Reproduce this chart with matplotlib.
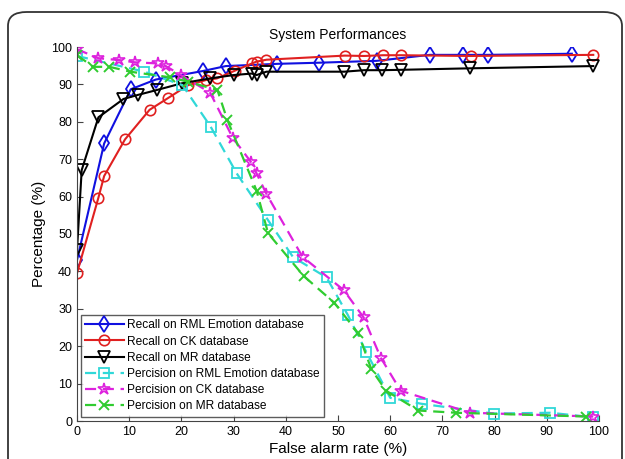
import matplotlib.pyplot as plt
from matplotlib.patches import FancyBboxPatch

plt.rcParams['font.family'] = ['Liberation Sans', 'DejaVu Sans']

# recall curves
rml_rec_x = [0, 5.2, 10.3, 15.1, 24.2, 28.5, 38.4, 46.4, 57.4, 67.6, 73.9, 78.7, 94.8]
rml_rec_y = [43, 74.2, 88.7, 91.3, 93.6, 94.9, 95.5, 95.8, 96.3, 97.9, 97.9, 97.9, 98.2]

ck_rec_x = [0, 4.1, 5.2, 9.2, 13.9, 17.5, 21.3, 24.8, 26.8, 30.3, 33.5, 34.4, 36.3,
            51.3, 55.0, 58.6, 62.1, 75.4, 98.9]
ck_rec_y = [39.5, 59.7, 65.5, 75.3, 83.2, 86.4, 89.8, 91.2, 91.6, 93.7, 95.6, 96.1, 96.6,
            97.7, 97.6, 97.8, 97.8, 97.6, 97.9]

mr_rec_x = [0, 0.9, 4.1, 8.9, 11.7, 15.3, 20.1, 25.5, 30.0, 33.5, 34.4, 36.3,
            51.2, 55.0, 58.4, 62.1, 75.3, 98.9]
mr_rec_y = [45.7, 67.1, 81.2, 86.1, 87.2, 88.5, 90.3, 91.6, 92.5, 92.9, 92.5, 93.4,
            93.4, 93.8, 93.8, 93.9, 94.3, 94.9]

# precision curves
rml_pre_x = [0, 12.9, 20.2, 25.6, 30.6, 36.6, 41.4, 47.8, 51.9, 55.4, 60.0, 66.0,
             79.8, 90.7, 98.8]
rml_pre_y = [97.6, 93.4, 89.8, 78.7, 66.2, 53.7, 43.8, 38.4, 28.3, 18.5, 6.2, 4.6,
             2.0, 2.2, 1.0]

ck_pre_x = [0, 4.1, 8.1, 11.1, 15.6, 17.0, 19.9, 25.5, 29.8, 33.3, 34.4, 36.3,
            43.2, 51.1, 54.9, 58.2, 62.0, 75.3, 98.9]
ck_pre_y = [99.4, 97.0, 96.5, 95.9, 95.6, 94.9, 92.5, 87.8, 75.8, 69.3, 66.2, 60.7,
            43.9, 35.0, 27.7, 16.9, 8.1, 2.2, 1.2]

mr_pre_x = [0, 3.1, 6.2, 10.2, 17.8, 21.3, 26.9, 28.8, 34.4, 36.6, 43.4, 49.3,
            53.9, 56.4, 59.2, 65.4, 72.7, 97.6]
mr_pre_y = [97.8, 94.7, 94.7, 93.4, 91.9, 90.7, 88.5, 80.5, 61.6, 50.2, 38.8, 31.6,
            23.4, 13.8, 8.1, 2.8, 2.2, 1.2]

fig = plt.figure(figsize=(6.25, 4.59), dpi=100)

# rounded frame around the figure
frame = FancyBboxPatch((8 / 625, -0.05), 614 / 625, (459 - 12) / 459 + 0.05,
                       boxstyle="round,pad=0,rounding_size=0.03",
                       transform=fig.transFigure, fill=False,
                       edgecolor='#333333', linewidth=1.3)
fig.patches.append(frame)

ax = fig.add_axes([77 / 625, 38 / 459, 522 / 625, 374 / 459])

ax.plot(rml_rec_x, rml_rec_y, '-', color='#1010e0', marker='d', mfc='none',
        ms=8, lw=1.5, mew=1.3, label='Recall on RML Emotion database')
ax.plot(ck_rec_x, ck_rec_y, '-', color='#e02020', marker='o', mfc='none',
        ms=7.5, lw=1.5, mew=1.2, label='Recall on CK database')
ax.plot(mr_rec_x, mr_rec_y, '-', color='black', marker='v', mfc='none',
        ms=8, lw=1.5, mew=1.3, label='Recall on MR database')
ax.plot(rml_pre_x, rml_pre_y, '--', color='#30d8d8', marker='s', mfc='none',
        ms=7, lw=1.6, mew=1.3, dashes=(5, 3), label='Percision on RML Emotion database')
ax.plot(ck_pre_x, ck_pre_y, '--', color='#dd22dd', marker='*', mfc='none',
        ms=9, lw=1.6, mew=1.2, dashes=(5, 3), label='Percision on CK database')
ax.plot(mr_pre_x, mr_pre_y, '--', color='#30cc30', marker='x',
        ms=7, lw=1.6, mew=1.4, dashes=(5, 3), label='Percision on MR database')

ax.set_xlim(0, 100)
ax.set_ylim(0, 100)
ax.set_xticks(range(0, 101, 10))
ax.set_yticks(range(0, 101, 10))
ax.tick_params(direction='in', labelsize=9, length=4, color='#444444')
ax.spines['top'].set_visible(False)
ax.spines['right'].set_visible(False)
ax.spines['left'].set_color('#444444')
ax.spines['bottom'].set_color('#444444')

ax.set_title('System Performances', fontsize=10, pad=6)
ax.set_xlabel('False alarm rate (%)', fontsize=11, labelpad=3)
ax.set_ylabel('Percentage (%)', fontsize=11, labelpad=4)

leg = ax.legend(loc='lower left', bbox_to_anchor=(0.008, 0.012), fontsize=8.6,
                frameon=True, fancybox=False, edgecolor='#333333',
                handlelength=3.2, borderpad=0.35, labelspacing=0.35,
                handletextpad=0.3, borderaxespad=0)
leg.get_frame().set_linewidth(1.0)

fig.savefig('out.png', dpi=100)
